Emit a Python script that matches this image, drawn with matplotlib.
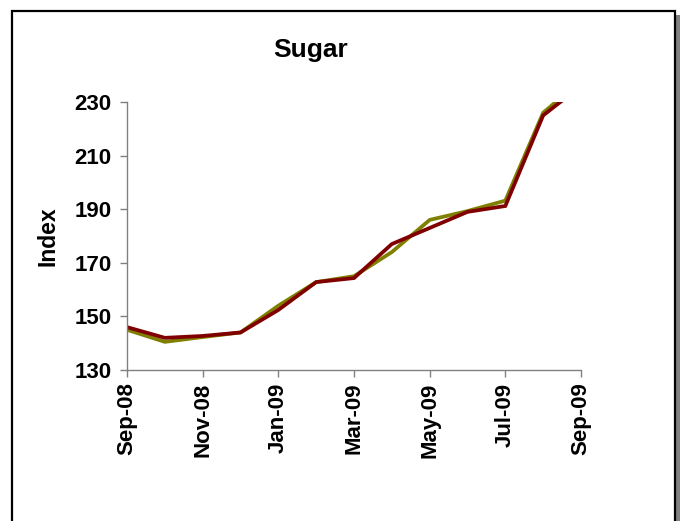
"""
Sugar price index, Sep-08 to Sep-09.
Saves out.png.
"""

import numpy as np
import matplotlib
matplotlib.use("Agg")
import matplotlib.pyplot as plt
from matplotlib.patches import Rectangle

months = ["Sep-08", "Oct-08", "Nov-08", "Dec-08", "Jan-09", "Feb-09", "Mar-09",
          "Apr-09", "May-09", "Jun-09", "Jul-09", "Aug-09", "Sep-09"]
series_olive = [145.0, 140.5, 142.3, 144.0, 154.0, 162.8, 165.0,
                174.0, 186.0, 189.3, 193.2, 226.0, 238.0]
series_red = [146.0, 142.0, 142.7, 144.0, 152.4, 162.8, 164.3,
              177.0, 183.0, 189.0, 191.2, 225.0, 236.0]
yticks = [130, 150, 170, 190, 210, 230]

OLIVE = "#808000"
RED = "#800000"
AXIS_GREY = "#808080"

plt.rcParams.update({
    "font.family": ["Liberation Sans", "DejaVu Sans"],
    "font.weight": "bold",
})

fig = plt.figure(figsize=(6.83, 5.21), dpi=100)

# outer chart frame with shadow on the right
fig.patches.append(Rectangle((676 / 683, -0.1), 4 / 683, 1.1 - 15 / 521,
                             transform=fig.transFigure, facecolor="#808080",
                             edgecolor="none", zorder=0))
fig.patches.append(Rectangle((12 / 683, -0.1), 663 / 683, 1.1 - 11 / 521,
                             transform=fig.transFigure, facecolor="white",
                             edgecolor="black", linewidth=1.6, zorder=1))

ax = fig.add_axes([127 / 683, 1 - 370 / 521, 454 / 683, 268 / 521])
ax.set_zorder(2)
ax.patch.set_alpha(0)

x = np.arange(len(months))
ax.plot(x, series_olive, color=OLIVE, linewidth=2.7, solid_joinstyle="miter")
ax.plot(x, series_red, color=RED, linewidth=2.7, solid_joinstyle="miter")

ax.set_xlim(0, len(months) - 1)
ax.set_ylim(130, 230)
ax.set_yticks(yticks)
ax.set_yticklabels([str(v) for v in yticks], fontsize=16, fontweight="bold")
ax.set_xticks(x[::2])
ax.set_xticklabels(months[::2], rotation=90, fontsize=16, fontweight="bold")

for side in ("top", "right"):
    ax.spines[side].set_visible(False)
for side in ("left", "bottom"):
    ax.spines[side].set_color(AXIS_GREY)
    ax.spines[side].set_linewidth(1.0)
ax.tick_params(axis="both", colors=AXIS_GREY, labelcolor="black",
               direction="out", length=5, width=1.0)
ax.tick_params(axis="y", pad=6)
ax.tick_params(axis="x", pad=4)

ax.set_ylabel("Index", fontsize=16.5, fontweight="bold", labelpad=11)

fig.text(311 / 683, 1 - 50 / 521, "Sugar", ha="center", va="center",
         fontsize=19, fontweight="bold")

fig.savefig("out.png", dpi=100)
